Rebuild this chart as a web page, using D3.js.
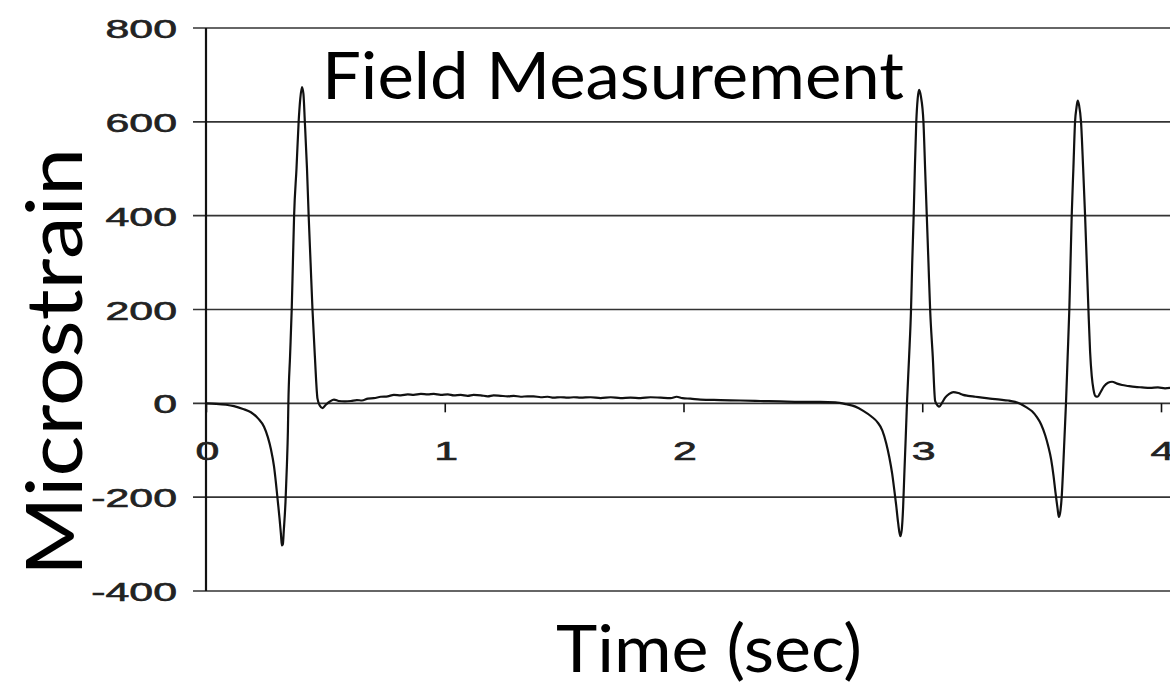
<!DOCTYPE html>
<html>
<head>
<meta charset="utf-8">
<script src="https://cdn.jsdelivr.net/npm/d3@7"></script>
<style>
body { margin:0; background:#fff; }
svg { display:block; }
</style>
</head>
<body>
<svg id="graph"></svg>
<script>
// time in milliseconds, strain in microstrain
var timeMs = [0,42,84,117,155,188,218,243,259,272,285,293,301,308,314,318,322,326,333,339,343,345,352,359,364,369,379,388,395,402,408,414,423,430,438,446,456,467,477,488,502,519,536,556,582,607,632,653,678,703,732,761,787,816,845,870,900,929,954,983,1013,1038,1067,1096,1121,1151,1180,1205,1234,1264,1289,1318,1347,1372,1402,1431,1456,1485,1515,1540,1569,1611,1653,1695,1736,1778,1820,1862,1904,1946,1971,1996,2029,2071,2155,2238,2322,2406,2489,2573,2636,2682,2720,2753,2787,2812,2833,2849,2862,2874,2883,2891,2899,2908,2914,2920,2925,2931,2936,2945,2953,2958,2964,2969,2975,2981,2987,2994,3005,3012,3019,3026,3033,3044,3054,3065,3071,3084,3096,3113,3130,3151,3171,3192,3222,3251,3284,3326,3360,3389,3410,3435,3460,3481,3498,3515,3527,3540,3550,3558,3567,3572,3577,3584,3590,3596,3602,3609,3616,3621,3626,3633,3640,3646,3651,3657,3665,3674,3682,3689,3696,3703,3710,3717,3726,3734,3745,3761,3778,3795,3816,3837,3862,3891,3920,3954,3987,4017,4038]
var strain = [0,-1,-3,-6,-12,-19,-32,-50,-72,-98,-135,-170,-210,-245,-280,-303,-300,-270,-210,-130,-60,0,100,200,300,400,500,600,650,674,660,600,500,400,300,200,100,10,-5,-10,-3,4,8,5,4,5,7,6,10,11,14,15,18,17,19,18,20,19,20,18,19,17,18,16,18,17,15,17,16,15,16,14,15,15,13,14,12,13,12,13,12,13,11,13,11,12,11,13,12,11,14,11,10,8,7,6,5,4,3,3,2,-2,-7,-16,-28,-40,-58,-85,-115,-150,-185,-218,-255,-283,-270,-220,-150,-70,0,100,200,300,400,500,600,650,668,655,600,500,400,300,200,100,5,-5,-7,2,12,20,24,22,18,16,14,12,10,8,6,3,-1,-8,-17,-30,-45,-68,-90,-120,-155,-190,-225,-242,-235,-200,-140,-70,0,100,200,300,400,500,600,630,645,635,600,500,400,300,200,110,58,30,15,14,22,36,44,46,42,39,37,35,34,33,34,32,33]

var yTicks = [-400,-200,0,200,400,600,800]
var xTicks = [0,1,2,3,4]

var screen = {width:1170,height:686}

var svg = d3.select("#graph")
    .attr("width",screen.width)
    .attr("height",screen.height)

var xscale = d3.scaleLinear()
    .domain([0,4])
    .range([206,1161])

var yscale = d3.scaleLinear()
    .domain([-400,800])
    .range([591,28])

var stretch = 1.65

// horizontal grid lines
svg.append("g")
    .selectAll("line")
    .data(yTicks)
    .enter()
    .append("line")
    .attr("x1",193)
    .attr("x2",screen.width)
    .attr("y1",function(d){ return yscale(d) })
    .attr("y2",function(d){ return yscale(d) })
    .attr("stroke","#333")
    .attr("stroke-width",1.6)

// y axis line
svg.append("line")
    .attr("x1",206)
    .attr("x2",206)
    .attr("y1",yscale(800))
    .attr("y2",yscale(-400))
    .attr("stroke","#111")
    .attr("stroke-width",2.2)

// y tick labels (source picture is stretched horizontally)
svg.append("g")
    .selectAll("text")
    .data(yTicks)
    .enter()
    .append("text")
    .attr("transform",function(d){ return "translate(177," + (yscale(d)+10) + ") scale(" + stretch + ",1)" })
    .attr("text-anchor","end")
    .style("font-family","'Liberation Sans', Arial, sans-serif")
    .style("font-size","26px")
    .attr("fill","#222")
    .attr("stroke","#222")
    .attr("stroke-width",0.6)
    .text(function(d){ return d })

// x axis on the zero line
var xAxis = d3.axisBottom(xscale)
    .tickValues(xTicks)
    .tickSize(9)
    .tickFormat(d3.format("d"))

var gx = svg.append("g")
    .attr("transform","translate(0," + yscale(0) + ")")
    .call(xAxis)

gx.select(".domain").remove()
gx.selectAll(".tick line")
    .attr("stroke","#111")
    .attr("stroke-width",1.6)
gx.selectAll(".tick text")
    .attr("y",0)
    .attr("dy",0)
    .attr("transform","translate(1,57) scale(" + stretch + ",1)")
    .attr("fill","#222")
    .attr("stroke","#222")
    .attr("stroke-width",0.6)
    .style("font-family","'Liberation Sans', Arial, sans-serif")
    .style("font-size","26px")

// strain trace
var line = d3.line()
    .x(function(d,i){ return xscale(timeMs[i]/1000) })
    .y(function(d){ return yscale(d) })
    .curve(d3.curveMonotoneX)

svg.append("path")
    .datum(strain)
    .attr("d",line)
    .attr("fill","none")
    .attr("stroke","#111")
    .attr("stroke-width",2.2)
    .attr("stroke-linejoin","round")

// titles
svg.append("text")
    .attr("x",322)
    .attr("y",99)
    .attr("textLength",582)
    .attr("lengthAdjust","spacingAndGlyphs")
    .style("font-family","Lato, 'Open Sans', sans-serif")
    .style("font-size","66px")
    .attr("fill","#000")
    .text("Field Measurement")

svg.append("text")
    .attr("x",556)
    .attr("y",672)
    .attr("textLength",306)
    .attr("lengthAdjust","spacingAndGlyphs")
    .style("font-family","Lato, 'Open Sans', sans-serif")
    .style("font-size","66px")
    .attr("fill","#000")
    .text("Time (sec)")

svg.append("text")
    .attr("transform","translate(82,362) rotate(-90)")
    .attr("text-anchor","middle")
    .attr("textLength",428)
    .attr("lengthAdjust","spacingAndGlyphs")
    .style("font-family","Lato, 'Open Sans', sans-serif")
    .style("font-size","78px")
    .attr("fill","#000")
    .text("Microstrain")
</script>
</body>
</html>
